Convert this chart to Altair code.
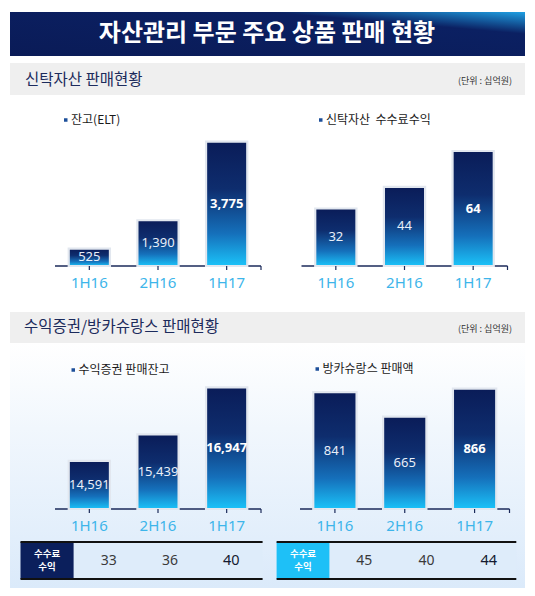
import altair as alt
import pandas as pd

# ---------------- data ----------------
periods = ["1H16", "2H16", "1H17"]
trust_balance = [525, 1390, 3775]            # 잔고(ELT)
trust_fee_income = [32, 44, 64]              # 신탁자산 수수료수익
securities_balance = [14591, 15439, 16947]   # 수익증권 판매잔고
bancassurance_sales = [841, 665, 866]        # 방카슈랑스 판매액
securities_fee_income = [33, 36, 40]         # 수익증권 수수료수익
bancassurance_fee_income = [45, 40, 44]      # 방카슈랑스 수수료수익

title_text = "자산관리 부문 주요 상품 판매 현황"
section1_text = "신탁자산 판매현황"
section2_text = "수익증권/방카슈랑스 판매현황"
unit_text = "(단위 : 십억원)"
legend_texts = ["잔고(ELT)", "신탁자산\u00a0 수수료수익", "수익증권 판매잔고", "방카슈랑스 판매액"]
fee_header = ["수수료", "수익"]

# ---------------- style ----------------
M = 8  # page margin


def P(v):
    return v - M


KR = "Noto Sans CJK KR"
NUM = "Noto Sans"
NAVY = "#0b1f5c"
CYAN = "#1ec0f7"
LABEL_BLUE = "#3db5ea"

dummy = alt.Data(values=[{"a": 1}])

bar_grad = alt.LinearGradient(
    gradient="linear", x1=0, y1=0, x2=0, y2=1,
    stops=[alt.GradientStop(color="#0a1c58", offset=0),
           alt.GradientStop(color="#0e2d6e", offset=0.38),
           alt.GradientStop(color="#1570bb", offset=0.74),
           alt.GradientStop(color="#1bc3f9", offset=1)])

banner_grad = alt.LinearGradient(
    gradient="linear", x1=0, y1=1, x2=1, y2=0,
    stops=[alt.GradientStop(color="#0a1b57", offset=0),
           alt.GradientStop(color="#0b2062", offset=0.75),
           alt.GradientStop(color="#1f9fe2", offset=1)])

lower_bg_grad = alt.LinearGradient(
    gradient="linear", x1=0, y1=0, x2=0, y2=1,
    stops=[alt.GradientStop(color="#ffffff", offset=0),
           alt.GradientStop(color="#f1f7fd", offset=0.35),
           alt.GradientStop(color="#dbeafa", offset=1)])


def rect(x0, x1, y0, y1, fill, **kw):
    return alt.Chart(dummy).mark_rect(fill=fill, **kw).encode(
        x=alt.value(P(x0)), x2=alt.value(P(x1)),
        y=alt.value(P(y0)), y2=alt.value(P(y1)))


def label(s, x, y, size, color, align="left", weight="normal", font=KR, **kw):
    return alt.Chart(dummy).mark_text(
        text=s, align=align, baseline="middle", fontSize=size, color=color,
        fontWeight=weight, font=font, **kw).encode(
        x=alt.value(P(x)), y=alt.value(P(y)))


def hline(x0, x1, y, color, w):
    return alt.Chart(dummy).mark_rule(color=color, strokeWidth=w).encode(
        x=alt.value(P(x0)), x2=alt.value(P(x1)), y=alt.value(P(y)))


def vline(x, y0, y1, color, w):
    return alt.Chart(dummy).mark_rule(color=color, strokeWidth=w).encode(
        x=alt.value(P(x)), y=alt.value(P(y0)), y2=alt.value(P(y1)))


def panel(values, xr, yr, base, axis_y, label_y, pad_inner=0.4):
    df = pd.DataFrame({"period": periods, "value": values})
    xs = alt.Scale(domain=periods, range=[P(xr[0]), P(xr[1])],
                   paddingInner=pad_inner, paddingOuter=pad_inner / 2)
    ys = alt.Scale(domain=[base, max(values)], range=[P(yr[0]), P(yr[1])],
                   zero=False, nice=False)
    X = alt.X("period:N", scale=xs, axis=None, sort=periods)
    bars = alt.Chart().mark_bar(fill=bar_grad, stroke="#e2e7ef", strokeWidth=2.2).encode(
        x=X, y=alt.Y("value:Q", scale=ys, axis=None), y2=alt.Y2Datum(base))
    mid = alt.Chart().transform_calculate(
        mid=f"(datum.value + {base}) / 2")
    txt_n = mid.transform_filter(alt.datum.period != periods[-1]).mark_text(
        font=NUM, fontSize=13, color="#e8eef8", baseline="middle").encode(
        x=X, y=alt.Y("mid:Q", scale=ys, axis=None), text=alt.Text("value:Q", format=","))
    txt_b = mid.transform_filter(alt.datum.period == periods[-1]).mark_text(
        font=NUM, fontSize=13, color="#ffffff", fontWeight="bold", baseline="middle").encode(
        x=X, y=alt.Y("mid:Q", scale=ys, axis=None), text=alt.Text("value:Q", format=","))
    ticks = alt.Chart().mark_rule(color="#1b2a5a", strokeWidth=1.2).encode(
        x=X, y=alt.value(P(axis_y)), y2=alt.value(P(axis_y + 4)))
    cats = alt.Chart().mark_text(font=NUM, fontSize=15, color=LABEL_BLUE,
                                 baseline="middle").encode(
        x=X, y=alt.value(P(label_y)), text="period:N")
    return alt.layer(bars, txt_n, txt_b, ticks, cats, data=df)


def fee_row(values, xr, y):
    df = pd.DataFrame({"period": periods, "fee": values})
    xs = alt.Scale(domain=periods, range=[P(xr[0]), P(xr[1])],
                   paddingInner=0, paddingOuter=0)
    X = alt.X("period:N", scale=xs, axis=None, sort=periods)
    n = alt.Chart().transform_filter(alt.datum.period != periods[-1]).mark_text(
        font=NUM, fontSize=14, color="#3a3a3a", baseline="middle").encode(
        x=X, y=alt.value(P(y)), text="fee:Q")
    b = alt.Chart().transform_filter(alt.datum.period == periods[-1]).mark_text(
        font=NUM, fontSize=14.5, color="#141a30", baseline="middle").encode(
        x=X, y=alt.value(P(y)), text="fee:Q")
    return alt.layer(n, b, data=df)


layers = []

# lower background
layers.append(rect(10, 525, 343, 588, lower_bg_grad))

# title banner
layers.append(rect(10, 525, 12, 56, banner_grad))
layers.append(label(title_text, 267, 34, 24, "#ffffff", align="center", weight="bold"))

# section bands
layers.append(rect(10, 525, 63, 95, "#efefef"))
layers.append(label(section1_text, 25, 80, 15.5, "#1c2b5c"))
layers.append(label(unit_text, 512, 81, 9, "#333333", align="right"))
layers.append(rect(10, 525, 312, 343, "#efefef"))
layers.append(label(section2_text, 24, 327, 15.5, "#1c2b5c"))
layers.append(label(unit_text, 512, 329, 9, "#333333", align="right"))

# legends
legend_pos = [(64, 120), (319, 120), (71.5, 370), (315.5, 369)]
for (lx, ly), lt in zip(legend_pos, legend_texts):
    layers.append(rect(lx, lx + 3.5, ly - 1.75, ly + 1.75, "#1d4f9a"))
    layers.append(label(lt, lx + 7, ly, 12, "#1a1a1a"))

# axis lines
axis_specs = [((55, 261), 266), ((301.5, 507.5), 266), ((55, 261), 509), ((300, 509.5), 509)]
for (ax0, ax1), ay in axis_specs:
    layers.append(hline(ax0, ax1, ay, "#1b2a5a", 1.6))
    layers.append(vline(ax1, ay, ay + 4, "#1b2a5a", 1.2))

# bar panels
layers.append(panel(trust_balance, (55, 261), (266, 141.7), 0, 266, 283))
layers.append(panel(trust_fee_income, (301.5, 507.5), (266, 151), 0, 266, 283))
layers.append(panel(securities_balance, (55, 261), (509, 387.3), 13050, 509, 525.5))
layers.append(panel(bancassurance_sales, (300, 509.5), (509, 388.7), 0, 509, 525.5, pad_inner=0.38))

# fee tables
for (x0, xc, x1), cell_color, fees, vr in [
        ((20.5, 73.6, 262.6), NAVY, securities_fee_income, (78, 262)),
        ((276.6, 329.4, 516.3), CYAN, bancassurance_fee_income, (333, 520))]:
    layers.append(rect(xc, x1, 542, 579, "#deecfa"))
    layers.append(rect(x0, xc, 542, 579, cell_color))
    layers.append(hline(x0, x1, 542, "#111111", 2))
    layers.append(hline(x0, x1, 579, "#111111", 2))
    layers.append(label(fee_header[0], (x0 + xc) / 2, 554, 9.5, "#ffffff",
                        align="center", weight="bold"))
    layers.append(label(fee_header[1], (x0 + xc) / 2, 567, 9.5, "#ffffff",
                        align="center", weight="bold"))
    layers.append(fee_row(fees, vr, 561))

chart = alt.layer(*layers).resolve_scale(
    x="independent", y="independent"
).properties(
    width=519, height=580, padding=0,
    autosize=alt.AutoSizeParams(type="none")
).configure_view(strokeWidth=0)

chart.save("out.html", embed_options={"renderer": "svg", "actions": False})
